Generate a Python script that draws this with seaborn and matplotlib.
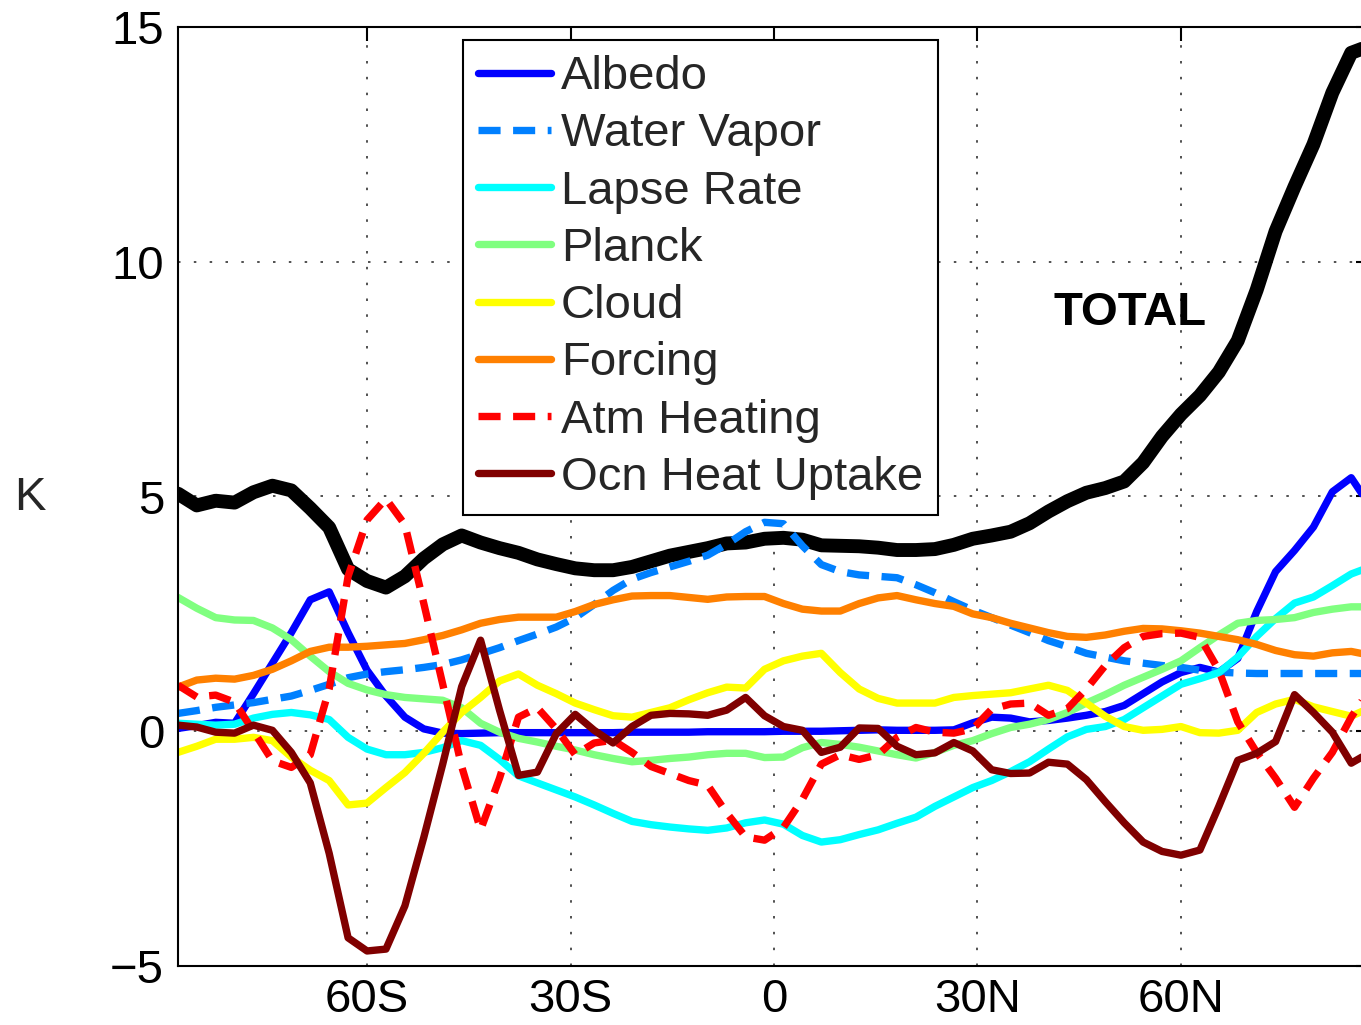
import matplotlib
matplotlib.use("Agg")
import matplotlib.pyplot as plt
import numpy as np
import pandas as pd
import seaborn as sns

# Gaussian-grid latitudes (T42, 64 rows), south to north
lat = [-87.8638, -85.0965, -82.3129, -79.5256, -76.7369, -73.9475, -71.1578, -68.3678,
       -65.5776, -62.7874, -59.9970, -57.2066, -54.4162, -51.6257, -48.8352, -46.0447,
       -43.2542, -40.4636, -37.6731, -34.8825, -32.0919, -29.3014, -26.5108, -23.7202,
       -20.9296, -18.1390, -15.3484, -12.5578, -9.7671, -6.9765, -4.1859, -1.3953,
       1.3953, 4.1859, 6.9765, 9.7671, 12.5578, 15.3484, 18.1390, 20.9296,
       23.7202, 26.5108, 29.3014, 32.0919, 34.8825, 37.6731, 40.4636, 43.2542,
       46.0447, 48.8352, 51.6257, 54.4162, 57.2066, 59.9970, 62.7874, 65.5776,
       68.3678, 71.1578, 73.9475, 76.7369, 79.5256, 82.3129, 85.0965, 87.8638]

# Zonal-mean surface temperature change and its partial contributions (K)
total = [5.06, 4.81, 4.91, 4.87, 5.09, 5.23, 5.13, 4.75, 4.34, 3.45,
         3.2, 3.06, 3.3, 3.68, 3.98, 4.17, 4.02, 3.9, 3.8, 3.66,
         3.56, 3.47, 3.43, 3.43, 3.5, 3.62, 3.74, 3.82, 3.9, 4.0,
         4.02, 4.1, 4.12, 4.08, 3.96, 3.95, 3.94, 3.91, 3.86, 3.86,
         3.88, 3.97, 4.1, 4.17, 4.25, 4.43, 4.68, 4.9, 5.08, 5.18,
         5.32, 5.72, 6.28, 6.75, 7.15, 7.65, 8.32, 9.4, 10.65, 11.6,
         12.5, 13.6, 14.45, 14.6]

albedo = [0.06, 0.12, 0.19, 0.17, 0.8, 1.45, 2.1, 2.8, 2.97, 2.1,
          1.3, 0.75, 0.3, 0.05, -0.04, -0.05, -0.04, -0.03, -0.03, -0.03,
          -0.03, -0.03, -0.03, -0.03, -0.02, -0.02, -0.02, -0.02, -0.01, -0.01,
          -0.01, -0.01, 0.0, 0.0, 0.0, 0.01, 0.02, 0.03, 0.02, 0.02,
          0.02, 0.03, 0.18, 0.3, 0.28, 0.2, 0.23, 0.28, 0.34, 0.42,
          0.55, 0.8, 1.05, 1.25, 1.36, 1.26, 1.55, 2.55, 3.4, 3.85,
          4.35, 5.1, 5.4, 4.8]

water_vapor = [0.38, 0.44, 0.51, 0.56, 0.61, 0.68, 0.75, 0.87, 1.0, 1.14,
               1.22, 1.27, 1.31, 1.36, 1.42, 1.52, 1.65, 1.78, 1.93, 2.07,
               2.22, 2.42, 2.7, 3.0, 3.24, 3.38, 3.5, 3.62, 3.75, 3.98,
               4.25, 4.45, 4.42, 3.95, 3.55, 3.4, 3.33, 3.3, 3.27, 3.12,
               2.95, 2.76, 2.58, 2.42, 2.26, 2.1, 1.93, 1.8, 1.66, 1.58,
               1.5, 1.45, 1.4, 1.36, 1.3, 1.26, 1.24, 1.23, 1.23, 1.23,
               1.23, 1.23, 1.23, 1.23]

lapse_rate = [0.17, 0.15, 0.13, 0.15, 0.28, 0.36, 0.4, 0.35, 0.25, -0.13,
              -0.38, -0.5, -0.5, -0.45, -0.35, -0.2, -0.3, -0.6, -0.95, -1.1,
              -1.25, -1.4, -1.57, -1.75, -1.92, -1.99, -2.04, -2.08, -2.11, -2.06,
              -1.95, -1.89, -1.98, -2.22, -2.36, -2.31, -2.2, -2.1, -1.96, -1.83,
              -1.6, -1.4, -1.2, -1.05, -0.86, -0.65, -0.38, -0.12, 0.04, 0.1,
              0.25, 0.5, 0.75, 1.0, 1.12, 1.25, 1.58, 2.02, 2.4, 2.73,
              2.86, 3.1, 3.35, 3.5]

planck = [2.85, 2.62, 2.42, 2.37, 2.36, 2.2, 1.95, 1.6, 1.27, 1.02,
          0.88, 0.78, 0.72, 0.69, 0.66, 0.5, 0.17, -0.02, -0.15, -0.23,
          -0.32, -0.4, -0.5, -0.58, -0.65, -0.62, -0.58, -0.55, -0.5, -0.47,
          -0.47, -0.56, -0.55, -0.35, -0.24, -0.28, -0.34, -0.42, -0.5, -0.57,
          -0.45, -0.3, -0.2, -0.05, 0.08, 0.15, 0.25, 0.4, 0.6, 0.78,
          0.98, 1.15, 1.32, 1.5, 1.78, 2.05, 2.3, 2.36, 2.38, 2.42,
          2.53, 2.6, 2.65, 2.65]

cloud = [-0.45, -0.32, -0.17, -0.17, -0.13, -0.2, -0.55, -0.83, -1.05, -1.57,
         -1.53, -1.2, -0.88, -0.47, -0.02, 0.4, 0.72, 1.07, 1.22, 0.98,
         0.8, 0.6, 0.46, 0.33, 0.3, 0.4, 0.5, 0.67, 0.82, 0.94,
         0.92, 1.32, 1.5, 1.6, 1.66, 1.25, 0.9, 0.7, 0.6, 0.6,
         0.6, 0.72, 0.76, 0.79, 0.82, 0.9, 0.98, 0.87, 0.6, 0.32,
         0.1, 0.02, 0.04, 0.1, -0.03, -0.04, 0.02, 0.4, 0.58, 0.68,
         0.52, 0.42, 0.32, 0.5]

forcing = [0.94, 1.09, 1.13, 1.11, 1.19, 1.32, 1.5, 1.7, 1.79, 1.79,
           1.81, 1.84, 1.87, 1.95, 2.04, 2.16, 2.3, 2.38, 2.43, 2.43,
           2.43, 2.55, 2.7, 2.8, 2.88, 2.89, 2.89, 2.85, 2.81, 2.86,
           2.87, 2.87, 2.72, 2.6, 2.56, 2.56, 2.72, 2.84, 2.89, 2.8,
           2.72, 2.66, 2.5, 2.42, 2.3, 2.2, 2.1, 2.02, 2.0, 2.05,
           2.13, 2.19, 2.18, 2.14, 2.09, 2.02, 1.95, 1.85, 1.72, 1.63,
           1.6, 1.67, 1.7, 1.62]

atm_heating = [0.98, 0.73, 0.77, 0.62, 0.0, -0.63, -0.77, -0.5, 0.9, 3.3,
               4.5, 4.95, 4.4, 2.72, 1.0, -0.75, -2.1, -1.0, 0.3, 0.5,
               0.05, -0.5, -0.25, -0.19, -0.45, -0.75, -0.9, -1.05, -1.15, -1.74,
               -2.25, -2.32, -2.05, -1.45, -0.7, -0.5, -0.6, -0.5, -0.13, 0.08,
               -0.02, -0.04, 0.05, 0.47, 0.58, 0.6, 0.34, 0.48, 0.9, 1.4,
               1.78, 2.02, 2.08, 2.09, 2.0, 1.3, 0.2, -0.45, -1.0, -1.62,
               -1.0, -0.45, 0.3, 0.9]

ocn_heat_uptake = [0.13, 0.09, -0.02, -0.04, 0.13, 0.02, -0.45, -1.1, -2.6, -4.4,
                   -4.68, -4.64, -3.72, -2.26, -0.7, 0.95, 1.94, 0.45, -0.94, -0.87,
                   -0.05, 0.36, 0.02, -0.25, 0.1, 0.34, 0.38, 0.37, 0.34, 0.45,
                   0.72, 0.33, 0.1, 0.02, -0.45, -0.34, 0.07, 0.06, -0.32, -0.5,
                   -0.46, -0.24, -0.42, -0.82, -0.9, -0.89, -0.66, -0.7, -1.03, -1.5,
                   -1.95, -2.36, -2.56, -2.64, -2.53, -1.6, -0.62, -0.47, -0.22, 0.78,
                   0.4, -0.02, -0.68, -0.45]

x_ticks = [-60, -30, 0, 30, 60]
x_tick_labels = ["60S", "30S", "0", "30N", "60N"]
y_ticks = [-5, 0, 5, 10, 15]

components = [
    ("Albedo", albedo, "#0000FF", False),
    ("Water Vapor", water_vapor, "#0080FF", True),
    ("Lapse Rate", lapse_rate, "#00FFFF", False),
    ("Planck", planck, "#80FF80", False),
    ("Cloud", cloud, "#FFFF00", False),
    ("Forcing", forcing, "#FF8000", False),
    ("Atm Heating", atm_heating, "#FF0000", True),
    ("Ocn Heat Uptake", ocn_heat_uptake, "#800000", False),
]

sns.set_style("white")
plt.rcParams["font.family"] = ["Liberation Sans", "DejaVu Sans"]
plt.rcParams["axes.unicode_minus"] = True

FS = 34

fig = plt.figure(figsize=(13.61, 10.25), dpi=100)
ax = fig.add_axes([178 / 1361, 59 / 1025, 1192 / 1361, 939 / 1025])

# Total warming drawn first, underneath the components
sns.lineplot(x=lat, y=total, color="black", linewidth=10, ax=ax,
             errorbar=None, sort=False, legend=False)
ax.lines[-1].set_solid_joinstyle("round")

for name, vals, color, dashed in components:
    sns.lineplot(x=lat, y=vals, color=color, linewidth=5.3, ax=ax,
                 label=name, errorbar=None, sort=False)
    line = ax.lines[-1]
    if dashed:
        line.set_dashes([3.0, 1.7])

ax.set_xlim(lat[0], lat[-1])
ax.set_ylim(-5, 15)
ax.set_xticks(x_ticks)
ax.set_xticklabels(x_tick_labels)
ax.set_yticks(y_ticks)
ax.set_xlabel("")
ax.set_ylabel("")

ax.set_axisbelow(True)
ax.grid(True, color="#333333", linestyle=(0, (1.5, 8)), linewidth=1.2)
ax.tick_params(direction="in", length=10, width=1.5, labelsize=FS,
               top=True, right=True, colors="black")
ax.tick_params(axis="x", pad=9)
ax.tick_params(axis="y", pad=10)
for sp in ax.spines.values():
    sp.set_linewidth(1.5)
    sp.set_color("black")

leg = ax.legend(loc="upper left", bbox_to_anchor=(0.239, 0.986), fontsize=FS,
                frameon=True, fancybox=False, edgecolor="black", framealpha=1,
                borderpad=0.32, labelspacing=0.28, handlelength=1.55,
                handletextpad=0.21, borderaxespad=0)
leg.get_frame().set_linewidth(1.5)

ax.text(52.5, 8.9, "TOTAL", fontsize=FS, fontweight="bold", color="black",
        ha="center", va="center")
fig.text(30 / 1361, 1 - 498 / 1025, "K", fontsize=FS, ha="center", va="center")

fig.savefig("out.png", dpi=100)
